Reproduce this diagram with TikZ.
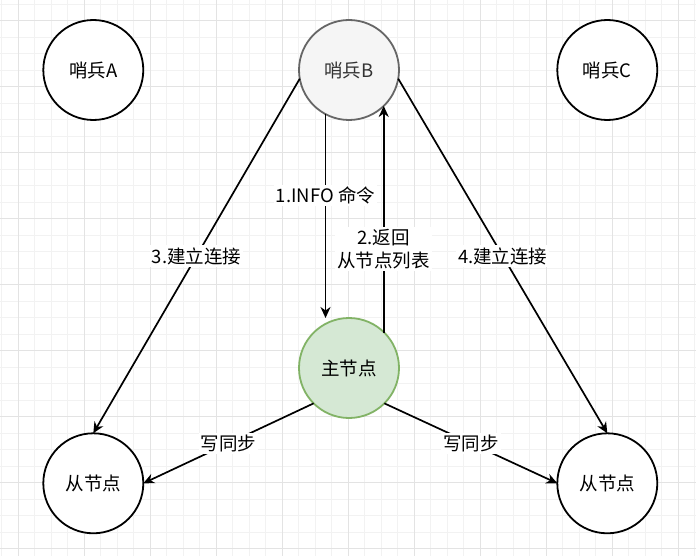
\documentclass[tikz,border=0pt]{standalone}
\usepackage{fontspec}
\setmainfont{Noto Sans CJK SC}
\usepackage{tikz}
\usetikzlibrary{arrows.meta,positioning,calc}
\definecolor{cGridMin}{HTML}{F2F2F2}
\definecolor{cGridMaj}{HTML}{E3E3E3}
\definecolor{cGrayF}{HTML}{F5F5F5}
\definecolor{cGrayD}{HTML}{666666}
\definecolor{cGrayT}{HTML}{333333}
\definecolor{cGreenF}{HTML}{D5E8D4}
\definecolor{cGreenD}{HTML}{82B366}

\begin{document}
\begin{tikzpicture}[x=1pt, y=-1pt,
    font=\fontsize{18.5}{23}\selectfont,
    >={Stealth[length=11pt, width=10pt, inset=3.5pt]},
    roundnode/.style={circle, draw=black, fill=white, line width=1.8pt,
      minimum size=100pt, inner sep=0pt, outer sep=0pt},
    link/.style={->, line width=1.7pt},
    tag/.style={fill=white, inner sep=2pt, align=center}]
    % background grid
    \useasboundingbox (0,0) rectangle (696,556);
    \fill[white] (0,0) rectangle (696,556);
    \begin{scope}
      \clip (0,0) rectangle (696,556);
      \foreach \k in {-1,...,42} {
        \draw[cGridMin, line width=1pt] ({18.3+16.5*\k},0) -- ({18.3+16.5*\k},556);
        \draw[cGridMin, line width=1pt] (0,{4.2+16.5*\k}) -- (696,{4.2+16.5*\k});
      }
      \foreach \k in {0,...,10} {
        \draw[cGridMaj, line width=1pt] ({18.3+66*\k},0) -- ({18.3+66*\k},556);
        \draw[cGridMaj, line width=1pt] (0,{20.7+66*\k}) -- (696,{20.7+66*\k});
      }
    \end{scope}
    % sentinels
    \node[roundnode] (sentA) at (93.3,70) {哨兵A};
    \node[roundnode, draw=cGrayD, fill=cGrayF, text=cGrayT] (sentB) at (349,70) {哨兵B};
    \node[roundnode] (sentC) at (607.3,70) {哨兵C};
    % master and slaves
    \node[roundnode, draw=cGreenD, fill=cGreenF] (master) at (349,368) {主节点};
    \node[roundnode] (slaveL) at (93.3,483.3) {从节点};
    \node[roundnode] (slaveR) at (607.3,483.3) {从节点};
    % sentinel B <-> master
    \draw[link] (sentB.-118) -- node[tag, pos=0.4] {1.INFO 命令} (sentB.-118 |- master.north);
    \draw[link] (sentB.-46 |- master.45) -- node[tag, pos=0.37] {2.返回\\从节点列表} (sentB.-46);
    % sentinel B -> slaves
    \draw[link] (sentB.190) -- node[tag] {3.建立连接} (slaveL.north);
    \draw[link] (sentB.-10) -- node[tag] {4.建立连接} (slaveR.north);
    % replication
    \draw[link] (master.225) -- node[tag] {写同步} (slaveL.east);
    \draw[link] (master.-45) -- node[tag] {写同步} (slaveR.west);
\end{tikzpicture}
\end{document}
